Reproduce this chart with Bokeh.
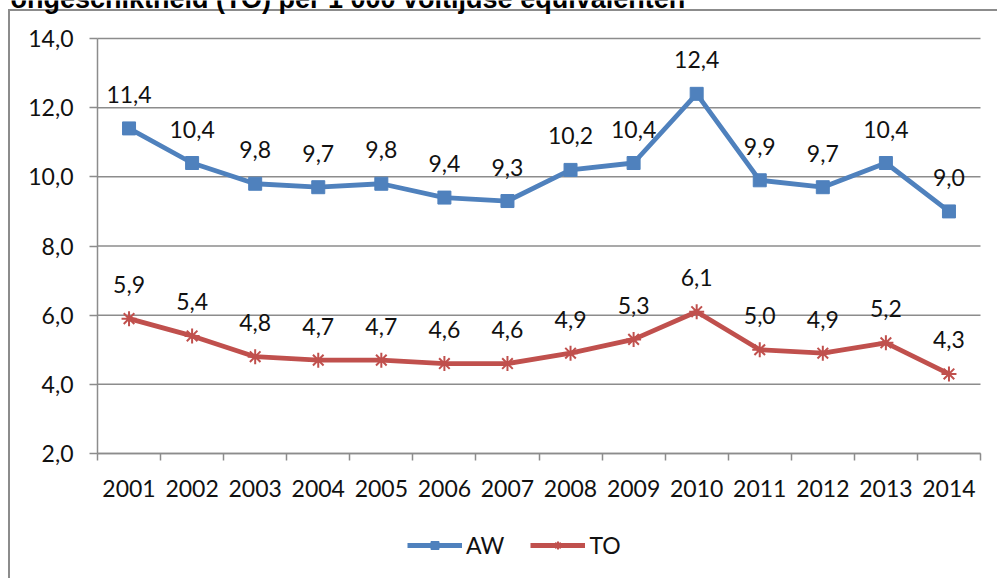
from bokeh.plotting import figure
from bokeh.models import (ColumnDataSource, FixedTicker, Legend, LegendItem, Label, Range1d)
from bokeh.core.properties import value
from bokeh.embed import file_html
from bokeh.resources import INLINE

years = [2001, 2002, 2003, 2004, 2005, 2006, 2007, 2008, 2009, 2010, 2011, 2012, 2013, 2014]
aw = [11.4, 10.4, 9.8, 9.7, 9.8, 9.4, 9.3, 10.2, 10.4, 12.4, 9.9, 9.7, 10.4, 9.0]
to = [5.9, 5.4, 4.8, 4.7, 4.7, 4.6, 4.6, 4.9, 5.3, 6.1, 5.0, 4.9, 5.2, 4.3]
y_ticks = [2, 4, 6, 8, 10, 12, 14]
title_text = "ongeschiktheid (TO) per 1 000 voltijdse equivalenten"

BLUE = "#4F81BD"
RED = "#C0504D"
GRID = "#8c8c8c"
FONT = "Lato"
TXT = "#111111"

W, H = 997, 578
# plot area (pixels inside the canvas)
PL, PR, PT, PB = 97, 980, 38, 453
x0, x1 = years[0] - 0.5, years[-1] + 0.5
y0, y1 = y_ticks[0], y_ticks[-1]
CW = (PR - PL) / (x1 - x0)
YU = (PB - PT) / (y1 - y0)

def fmt(v):
    return f"{v:.1f}".replace(".", ",")

src_aw = ColumnDataSource(dict(x=years, y=aw, lab=[fmt(v) for v in aw]))
src_to = ColumnDataSource(dict(x=years, y=to, lab=[fmt(v) for v in to]))

p = figure(width=W, height=H, output_backend="svg", toolbar_location=None, title=None,
           x_range=Range1d(x0 - PL / CW, x1 + (W - PR) / CW),
           y_range=Range1d(y0 - (H - PB) / YU, y1 + PT / YU),
           min_border=0)
p.border_fill_color = None
p.background_fill_color = None
p.outline_line_color = None
p.styles = {
    "background": "linear-gradient(#8c8c8c,#8c8c8c) 8px 9px / 100% 2px no-repeat, "
                  "linear-gradient(#8c8c8c,#8c8c8c) 8px 9px / 2px 100% no-repeat, #ffffff",
}

# axes
p.xaxis.fixed_location = y0
p.xaxis.bounds = (x0, x1)
p.xaxis.ticker = FixedTicker(ticks=years, minor_ticks=[y - 0.5 for y in years] + [x1])
p.xaxis.major_label_overrides = {y: str(y) for y in years}
p.xaxis.major_tick_line_color = None
p.xaxis.minor_tick_line_color = GRID
p.xaxis.minor_tick_line_width = 1.5
p.xaxis.minor_tick_out = 7
p.xaxis.minor_tick_in = 0
p.xaxis.axis_line_color = GRID
p.xaxis.axis_line_width = 1.5
p.xaxis.major_label_text_font = FONT
p.xaxis.major_label_text_font_size = "23px"
p.xaxis.major_label_text_color = TXT
p.xaxis.major_label_standoff = 19

p.yaxis.fixed_location = x0
p.yaxis.bounds = (y0, y1)
p.yaxis.ticker = FixedTicker(ticks=y_ticks)
p.yaxis.major_label_overrides = {t: fmt(t) for t in y_ticks}
p.yaxis.major_tick_line_color = GRID
p.yaxis.major_tick_line_width = 1.5
p.yaxis.major_tick_out = 8
p.yaxis.major_tick_in = 0
p.yaxis.minor_tick_line_color = None
p.yaxis.axis_line_color = GRID
p.yaxis.axis_line_width = 1.5
p.yaxis.major_label_text_font = FONT
p.yaxis.major_label_text_font_size = "23px"
p.yaxis.major_label_text_color = TXT
p.yaxis.major_label_standoff = 16

p.xgrid.grid_line_color = None
p.ygrid.grid_line_color = None
# horizontal gridlines across the plot area, at the y ticks
p.segment(x0=[x0] * len(y_ticks), x1=[x1] * len(y_ticks), y0=y_ticks, y1=y_ticks,
          line_color=GRID, line_width=1.5, level="underlay")

# series
l_aw = p.line("x", "y", source=src_aw, line_color=BLUE, line_width=4.8, line_join="round")
m_aw = p.scatter("x", "y", source=src_aw, marker="square", size=13, fill_color=BLUE, line_color=BLUE)
l_to = p.line("x", "y", source=src_to, line_color=RED, line_width=4.8, line_join="round")
m_to = p.scatter("x", "y", source=src_to, marker="asterisk", size=15, line_color=RED, line_width=2)

for src in (src_aw, src_to):
    p.text("x", "y", text="lab", source=src, text_align="center", text_baseline="alphabetic",
           y_offset=-34, text_font=value(FONT), text_font_size="23px", text_color=TXT)

# cut-off title fragment at the top
title = Label(x=x0 - (PL - 10) / CW, y=y1 + (PT + 2) / YU,
              text=title_text, text_font="Liberation Sans", text_font_style="bold",
              text_font_size="27px", text_color="#000000", text_baseline="alphabetic",
              text_align="left")
p.add_layout(title)

legend = Legend(items=[LegendItem(label="AW", renderers=[l_aw, m_aw]),
                       LegendItem(label="TO", renderers=[l_to, m_to])],
                orientation="horizontal", location=(407, 19),
                glyph_width=55, glyph_height=20, label_standoff=4, spacing=26,
                label_text_font=FONT, label_text_font_size="23px", label_text_color=TXT,
                border_line_color=None, background_fill_alpha=0, margin=0, padding=4)
p.add_layout(legend)

open("out.html", "w").write(file_html(p, INLINE))
